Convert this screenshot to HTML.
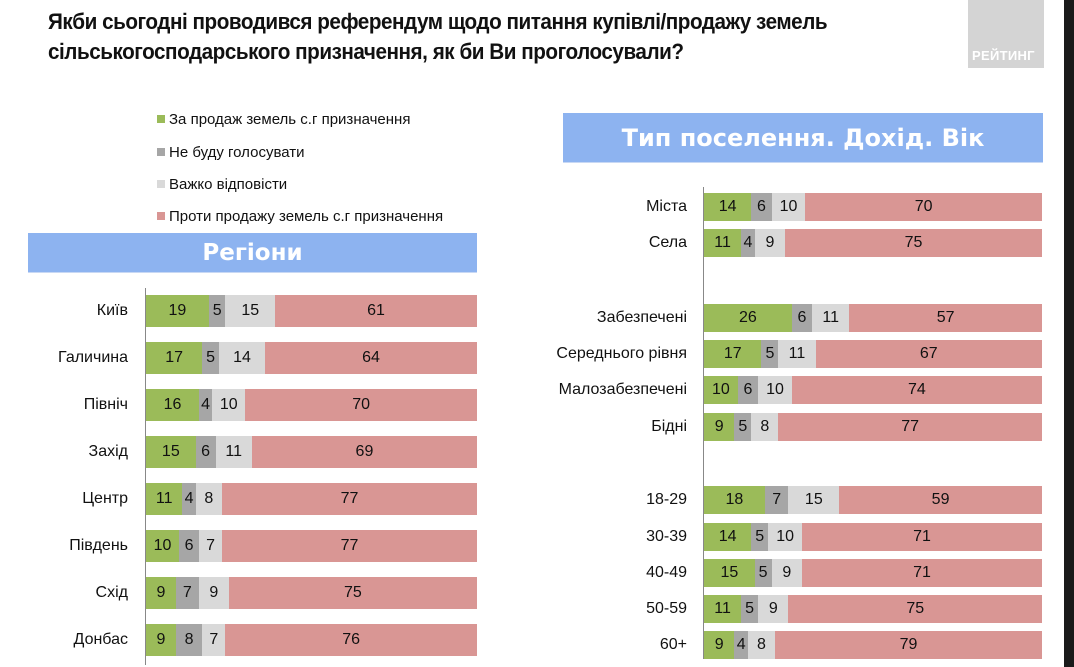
<!DOCTYPE html>
<html><head><meta charset="utf-8">
<style>
*{margin:0;padding:0;box-sizing:border-box}
body{width:1074px;height:667px;background:#fff;position:relative;overflow:hidden;font-family:"Liberation Sans",Arial,sans-serif;color:#111}
.t{position:absolute;left:48px;font-weight:bold;font-size:22px;letter-spacing:-0.5px;transform:scaleX(0.94);transform-origin:left;white-space:nowrap}
.logo{position:absolute;left:968px;top:0;width:76px;height:68px;background:#d4d4d4}
.logo span{position:absolute;left:4px;top:48px;color:#fff;font-weight:bold;font-size:13px;letter-spacing:0.3px}
.edge{position:absolute;left:1064px;top:0;width:10px;height:667px;background:#1a1a1a}
.lg{position:absolute;left:157px;font-size:15px}
.lg i{display:inline-block;width:8px;height:8px;margin-right:4px;vertical-align:1px}
.hd{position:absolute;background:#8db3f0;color:#fff;font-family:"DejaVu Sans",sans-serif;font-weight:bold;text-align:center;border-bottom:1px solid #c8d8f4}
.row{position:absolute;display:flex}
.row div{height:100%;display:flex;align-items:center;justify-content:center;font-size:16px}
.lab{position:absolute;text-align:right;font-size:16px;display:flex;align-items:center;justify-content:flex-end}
.g{background:#9bbb59}.d{background:#a6a6a6}.l{background:#d9d9d9}.p{background:#d99694}
.ax{position:absolute;border-left:1px solid #888}
</style></head><body>
<div class="t" style="top:9px">Якби сьогодні проводився референдум щодо питання купівлі/продажу земель</div>
<div class="t" style="top:39px">сільськогосподарського призначення, як би Ви проголосували?</div>
<div class="logo"><span>РЕЙТИНГ</span></div>
<div class="edge"></div>

<div class="lg" style="top:111px"><i class="g"></i>За продаж земель с.г призначення</div>
<div class="lg" style="top:144px"><i class="d"></i>Не буду голосувати</div>
<div class="lg" style="top:176px"><i class="l"></i>Важко відповісти</div>
<div class="lg" style="top:208px"><i class="p"></i>Проти продажу земель с.г призначення</div>

<div class="hd" style="left:28px;top:233px;width:449px;height:40px;line-height:40px;font-size:23px">Регіони</div>
<div class="hd" style="left:563px;top:113px;width:480px;height:50px;line-height:50px;font-size:24px">Тип поселення. Дохід. Вік</div>

<div class="ax" style="left:145px;top:288px;height:377px"></div>
<div class="ax" style="left:703px;top:187px;height:472px"></div>

<!-- left -->
<div class="lab" style="left:0;width:128px;top:295px;height:32px">Київ</div>
<div class="row" style="left:146px;top:295px;width:331px;height:32px"><div class="g" style="width:19%">19</div><div class="d" style="width:5%">5</div><div class="l" style="width:15%">15</div><div class="p" style="width:61%">61</div></div>
<div class="lab" style="left:0;width:128px;top:342px;height:32px">Галичина</div>
<div class="row" style="left:146px;top:342px;width:331px;height:32px"><div class="g" style="width:17%">17</div><div class="d" style="width:5%">5</div><div class="l" style="width:14%">14</div><div class="p" style="width:64%">64</div></div>
<div class="lab" style="left:0;width:128px;top:389px;height:32px">Північ</div>
<div class="row" style="left:146px;top:389px;width:331px;height:32px"><div class="g" style="width:16%">16</div><div class="d" style="width:4%">4</div><div class="l" style="width:10%">10</div><div class="p" style="width:70%">70</div></div>
<div class="lab" style="left:0;width:128px;top:436px;height:32px">Захід</div>
<div class="row" style="left:146px;top:436px;width:331px;height:32px"><div class="g" style="width:15%">15</div><div class="d" style="width:6%">6</div><div class="l" style="width:11%">11</div><div class="p" style="width:68%">69</div></div>
<div class="lab" style="left:0;width:128px;top:483px;height:32px">Центр</div>
<div class="row" style="left:146px;top:483px;width:331px;height:32px"><div class="g" style="width:11%">11</div><div class="d" style="width:4%">4</div><div class="l" style="width:8%">8</div><div class="p" style="width:77%">77</div></div>
<div class="lab" style="left:0;width:128px;top:530px;height:32px">Південь</div>
<div class="row" style="left:146px;top:530px;width:331px;height:32px"><div class="g" style="width:10%">10</div><div class="d" style="width:6%">6</div><div class="l" style="width:7%">7</div><div class="p" style="width:77%">77</div></div>
<div class="lab" style="left:0;width:128px;top:577px;height:32px">Схід</div>
<div class="row" style="left:146px;top:577px;width:331px;height:32px"><div class="g" style="width:9%">9</div><div class="d" style="width:7%">7</div><div class="l" style="width:9%">9</div><div class="p" style="width:75%">75</div></div>
<div class="lab" style="left:0;width:128px;top:624px;height:32px">Донбас</div>
<div class="row" style="left:146px;top:624px;width:331px;height:32px"><div class="g" style="width:9%">9</div><div class="d" style="width:8%">8</div><div class="l" style="width:7%">7</div><div class="p" style="width:76%">76</div></div>

<!-- right -->
<div class="lab" style="left:500px;width:187px;top:193px;height:28px">Міста</div>
<div class="row" style="left:704px;top:193px;width:338px;height:28px"><div class="g" style="width:14%">14</div><div class="d" style="width:6%">6</div><div class="l" style="width:10%">10</div><div class="p" style="width:70%">70</div></div>
<div class="lab" style="left:500px;width:187px;top:229px;height:28px">Села</div>
<div class="row" style="left:704px;top:229px;width:338px;height:28px"><div class="g" style="width:11%">11</div><div class="d" style="width:4%">4</div><div class="l" style="width:9%">9</div><div class="p" style="width:76%">75</div></div>

<div class="lab" style="left:500px;width:187px;top:304px;height:28px">Забезпечені</div>
<div class="row" style="left:704px;top:304px;width:338px;height:28px"><div class="g" style="width:26%">26</div><div class="d" style="width:6%">6</div><div class="l" style="width:11%">11</div><div class="p" style="width:57%">57</div></div>
<div class="lab" style="left:500px;width:187px;top:340px;height:28px">Середнього рівня</div>
<div class="row" style="left:704px;top:340px;width:338px;height:28px"><div class="g" style="width:17%">17</div><div class="d" style="width:5%">5</div><div class="l" style="width:11%">11</div><div class="p" style="width:67%">67</div></div>
<div class="lab" style="left:500px;width:187px;top:376px;height:28px">Малозабезпечені</div>
<div class="row" style="left:704px;top:376px;width:338px;height:28px"><div class="g" style="width:10%">10</div><div class="d" style="width:6%">6</div><div class="l" style="width:10%">10</div><div class="p" style="width:74%">74</div></div>
<div class="lab" style="left:500px;width:187px;top:413px;height:28px">Бідні</div>
<div class="row" style="left:704px;top:413px;width:338px;height:28px"><div class="g" style="width:9%">9</div><div class="d" style="width:5%">5</div><div class="l" style="width:8%">8</div><div class="p" style="width:78%">77</div></div>

<div class="lab" style="left:500px;width:187px;top:486px;height:28px">18-29</div>
<div class="row" style="left:704px;top:486px;width:338px;height:28px"><div class="g" style="width:18%">18</div><div class="d" style="width:7%">7</div><div class="l" style="width:15%">15</div><div class="p" style="width:60%">59</div></div>
<div class="lab" style="left:500px;width:187px;top:523px;height:28px">30-39</div>
<div class="row" style="left:704px;top:523px;width:338px;height:28px"><div class="g" style="width:14%">14</div><div class="d" style="width:5%">5</div><div class="l" style="width:10%">10</div><div class="p" style="width:71%">71</div></div>
<div class="lab" style="left:500px;width:187px;top:559px;height:28px">40-49</div>
<div class="row" style="left:704px;top:559px;width:338px;height:28px"><div class="g" style="width:15%">15</div><div class="d" style="width:5%">5</div><div class="l" style="width:9%">9</div><div class="p" style="width:71%">71</div></div>
<div class="lab" style="left:500px;width:187px;top:595px;height:28px">50-59</div>
<div class="row" style="left:704px;top:595px;width:338px;height:28px"><div class="g" style="width:11%">11</div><div class="d" style="width:5%">5</div><div class="l" style="width:9%">9</div><div class="p" style="width:75%">75</div></div>
<div class="lab" style="left:500px;width:187px;top:631px;height:28px">60+</div>
<div class="row" style="left:704px;top:631px;width:338px;height:28px"><div class="g" style="width:9%">9</div><div class="d" style="width:4%">4</div><div class="l" style="width:8%">8</div><div class="p" style="width:79%">79</div></div>
</body></html>
